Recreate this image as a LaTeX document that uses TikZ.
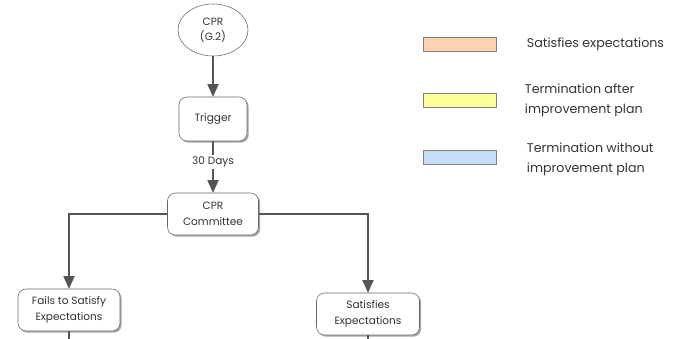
\documentclass[tikz,border=0pt]{standalone}
\usepackage{fontspec}
\setmainfont{Poppins}
\usepackage{xcolor}
\usepackage{tikz}
\usetikzlibrary{shapes.geometric, arrows.meta, positioning, shadows}

\definecolor{linegray}{HTML}{555555}
\definecolor{edgegray}{HTML}{666666}
\definecolor{satfill}{HTML}{FBD3B0}
\definecolor{impfill}{HTML}{FFFF99}
\definecolor{termfill}{HTML}{C5DDF7}

\begin{document}
\begin{tikzpicture}[
    x=0.025cm, y=-0.025cm,
    box/.style    = {draw=edgegray, fill=white, rounded corners=0.2cm, align=center,
                     font=\fontsize{7.5}{11}\selectfont, text=black!80,
                     drop shadow={shadow xshift=1.2pt, shadow yshift=-1.2pt, opacity=0.35, fill=black}},
    start/.style  = {draw=edgegray, fill=white, ellipse, align=center, inner sep=0pt,
                     font=\fontsize{7.5}{11}\selectfont, text=black!80,
                     minimum width=1.75cm, minimum height=1.3cm},
    legbox/.style = {draw=gray, minimum width=1.825cm, minimum height=0.35cm, inner sep=0pt},
    legtext/.style= {anchor=west, align=left, font=\fontsize{9}{14}\selectfont, text=black!80},
    arr/.style    = {-{Triangle[width=8pt,length=9pt]}, draw=linegray, thick},
    line/.style   = {draw=linegray, thick}
]
\useasboundingbox (0,0) rectangle (696,339);

% ---- Flow ----
\node[start] (cpr)  at (213,30)  {CPR\\(G.2)};
\node[box, minimum width=1.7cm, minimum height=1.1cm]     (trig) at (213,119) {Trigger};
\node[box, minimum width=2.275cm, minimum height=1.05cm]  (comm) at (213,214) {CPR\\Committee};
\node[box, minimum width=2.55cm, minimum height=1.05cm]   (fail) at (69,310)  {Fails to Satisfy\\Expectations};
\node[box, minimum width=2.575cm, minimum height=1.05cm]  (sat)  at (368,314) {Satisfies\\Expectations};

\coordinate (failend) at (69,339);
\coordinate (satend)  at (368,339);

% ---- Arrows ----
\draw[arr] (cpr) -- (trig);
\draw[arr] (trig) -- node[pos=0.4, fill=white, inner sep=1pt, font=\fontsize{7.5}{9.4}\selectfont, text=black!80] {30 Days} (comm);
\draw[arr] (comm.west) -| (fail.north);
\draw[arr] (comm.east) -| (sat.north);
\draw[line] (fail.south) -- (failend);
\draw[line] (sat.south)  -- (satend);

% ---- Legend ----
\node[legbox, fill=satfill]  (lg1) at (460,44)  {};
\node[legbox, fill=impfill]  (lg2) at (460,100) {};
\node[legbox, fill=termfill] (lg3) at (460,157) {};
\node[legtext] (lt1) at (522,44)  {Satisfies expectations};
\node[legtext] (lt2) at (520,100) {Termination after\\improvement plan};
\node[legtext] (lt3) at (522,159) {Termination without\\improvement plan};

\end{tikzpicture}
\end{document}
